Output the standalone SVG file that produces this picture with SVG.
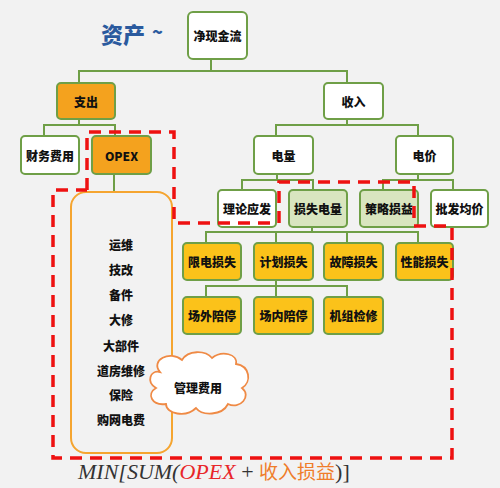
<svg xmlns="http://www.w3.org/2000/svg" width="500" height="488" viewBox="0 0 500 488">
<style>
.box{stroke:#6f9f47;stroke-width:2}
.w{fill:#ffffff}
.o{fill:#f4a21e}
.g{fill:#fbc21a}
.lg{fill:#d9e5bf}
.t{font-family:"Noto Sans CJK SC","Liberation Sans",sans-serif;font-weight:900;font-size:12px;fill:#111;text-anchor:middle;dominant-baseline:central}
.ln{fill:none;stroke:#6f9f47;stroke-width:2}
.red{fill:none;stroke:#ee1111;stroke-width:3.5;stroke-dasharray:12,8}
.li{font-family:"Noto Sans CJK SC",sans-serif;font-weight:900;font-size:12px;fill:#111;text-anchor:middle;dominant-baseline:central}
</style>
<rect width="500" height="488" fill="#f2f2f2"/>
<text x="101" y="33" font-family="Noto Sans CJK SC,sans-serif" font-weight="900" font-size="22" fill="#2b5a9e" dominant-baseline="central">资产</text>
<text x="152" y="31" font-family="Noto Sans CJK SC,sans-serif" font-weight="900" font-size="18" fill="#2b5a9e" dominant-baseline="central">~</text>
<g id="connectors">
<path class="ln" d="M211 59V71M79 83V71H347V83"/>
<path class="ln" d="M79 119V125M44 136V125H115V136"/>
<path class="ln" d="M347 119V125M276 136V125H418V136"/>
<path class="ln" d="M114 174V192"/>
<path class="ln" d="M277 174V180M242 190V180H313V190"/>
<path class="ln" d="M418 174V180M383 190V180H453V190"/>
<path class="ln" d="M312 227V232M206 243V232H418V243"/>
<path class="ln" d="M276 232V243M347 232V243"/>
<path class="ln" d="M276 280V286M206 297V286H347V297M276 286V297"/>
</g>
<g id="n_jxjl"><rect class="box w" x="188" y="12" width="59" height="47" rx="5"/><text class="t" x="217.5" y="35.5">净现金流</text></g>
<g id="n_zc"><rect class="box o" x="57" y="83" width="58" height="36" rx="4"/><text class="t" x="86" y="101">支出</text></g>
<g id="n_sr"><rect class="box w" x="324" y="83" width="59" height="36" rx="4"/><text class="t" x="353.5" y="101">收入</text></g>
<g id="n_cwfy"><rect class="box w" x="21" y="136" width="58" height="38" rx="4"/><text class="t" x="50" y="155">财务费用</text></g>
<g id="n_opex"><rect class="box o" x="92" y="136" width="59" height="38" rx="4"/><text class="t" x="121.5" y="155" font-size="11">OPEX</text></g>
<g id="n_dl"><rect class="box w" x="254" y="136" width="59" height="38" rx="4"/><text class="t" x="283.5" y="155">电量</text></g>
<g id="n_dj"><rect class="box w" x="396" y="136" width="57" height="38" rx="4"/><text class="t" x="424.5" y="155">电价</text></g>
<g id="n_llyf"><rect class="box w" x="218" y="190" width="58" height="37" rx="4"/><text class="t" x="247" y="208.5">理论应发</text></g>
<g id="n_ssdl"><rect class="box lg" x="289" y="190" width="58" height="37" rx="4"/><text class="t" x="318" y="208.5">损失电量</text></g>
<g id="n_clsy"><rect class="box lg" x="360" y="190" width="58" height="37" rx="4"/><text class="t" x="389" y="208.5">策略损益</text></g>
<g id="n_pfjj"><rect class="box w" x="431" y="190" width="57" height="37" rx="4"/><text class="t" x="459.5" y="208.5">批发均价</text></g>
<g id="n_xdss"><rect class="box g" x="183" y="243" width="58" height="37" rx="4"/><text class="t" x="212" y="261.5">限电损失</text></g>
<g id="n_jhss"><rect class="box g" x="254" y="243" width="59" height="37" rx="4"/><text class="t" x="283.5" y="261.5">计划损失</text></g>
<g id="n_gzss"><rect class="box g" x="324" y="243" width="59" height="37" rx="4"/><text class="t" x="353.5" y="261.5">故障损失</text></g>
<g id="n_xnss"><rect class="box g" x="396" y="243" width="57" height="37" rx="4"/><text class="t" x="424.5" y="261.5">性能损失</text></g>
<g id="n_cwpt"><rect class="box g" x="183" y="297" width="58" height="37" rx="4"/><text class="t" x="212" y="315.5">场外陪停</text></g>
<g id="n_cnpt"><rect class="box g" x="254" y="297" width="59" height="37" rx="4"/><text class="t" x="283.5" y="315.5">场内陪停</text></g>
<g id="n_jzjx"><rect class="box g" x="324" y="297" width="59" height="37" rx="4"/><text class="t" x="353.5" y="315.5">机组检修</text></g>
<g id="n_list">
<rect x="71" y="192" width="101" height="261" rx="15" fill="none" stroke="#f5a530" stroke-width="2"/>
<text class="li" x="121" y="244">运维</text>
<text class="li" x="121" y="269">技改</text>
<text class="li" x="121" y="294">备件</text>
<text class="li" x="121" y="319">大修</text>
<text class="li" x="121" y="345">大部件</text>
<text class="li" x="121" y="370">道房维修</text>
<text class="li" x="121" y="394">保险</text>
<text class="li" x="121" y="419">购网电费</text>
</g>
<g id="n_cloud">
<path d="M160 372 C150 360 170 350 182 360 C188 350 205 350 212 358 C222 350 238 354 236 364 C250 366 252 382 242 388 C252 396 240 410 228 404 C222 416 202 416 196 408 C186 418 166 414 166 404 C152 406 146 394 156 388 C146 382 150 370 160 372 Z" fill="#ffffff" stroke="#ef8a45" stroke-width="1.8"/>
<text class="t" x="198" y="387" font-size="14">管理费用</text>
</g>
<path class="red" d="M87 190V132H174V223H277M279 223V182H414V226H452V458H53V190H87"/>
<text x="78" y="479" font-family="Liberation Serif,serif" font-style="italic" font-size="22" fill="#333"><tspan>MIN[SUM(</tspan><tspan fill="#e8262a">OPEX</tspan><tspan font-style="normal"> + </tspan><tspan fill="#ef7d2a" font-style="normal" font-family="Noto Sans CJK SC,sans-serif" font-size="19">收入损益</tspan><tspan font-style="normal">)]</tspan></text>
</svg>
